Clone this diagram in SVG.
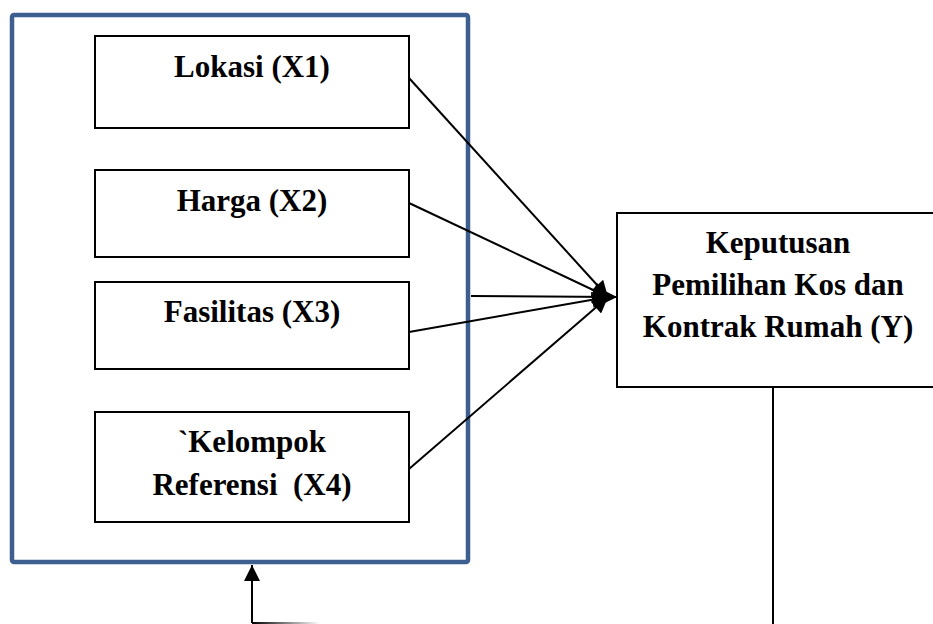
<svg xmlns="http://www.w3.org/2000/svg" width="933" height="624" viewBox="0 0 933 624">
<style>
.box{fill:#fff;stroke:#000;stroke-width:2}
.t{font-weight:bold;font-size:31px;fill:#000;text-anchor:middle}
.c{stroke:#000;stroke-width:2;fill:none}
</style>
<defs>
<marker id="ah" viewBox="0 0 10 10" refX="10" refY="5" markerWidth="9" markerHeight="8" markerUnits="strokeWidth" orient="auto">
<path d="M0,0 L10,5 L0,10 z" fill="#000"/>
</marker>
<linearGradient id="fade" x1="252" y1="0" x2="320" y2="0" gradientUnits="userSpaceOnUse">
<stop offset="0" stop-color="#000"/>
<stop offset="1" stop-color="#000" stop-opacity="0"/>
</linearGradient>
</defs>
<rect width="933" height="624" fill="#fff"/>
<g id="frame">
<rect x="12" y="15" width="456" height="547" rx="2" fill="none" stroke="#3C5F8F" stroke-width="4.5"/>
</g>
<g font-family="Liberation Serif, Times New Roman, DejaVu Serif, serif">
<g id="x1">
<rect class="box" x="95" y="36" width="314" height="92"/>
<text class="t" x="252" y="77">Lokasi (X1)</text>
</g>
<g id="x2">
<rect class="box" x="95" y="170" width="314" height="87"/>
<text class="t" x="252" y="211">Harga (X2)</text>
</g>
<g id="x3">
<rect class="box" x="95" y="282" width="314" height="87"/>
<text class="t" x="252" y="322">Fasilitas (X3)</text>
</g>
<g id="x4">
<rect class="box" x="95" y="412" width="314" height="110"/>
<text class="t" x="252" y="452">`Kelompok</text>
<text class="t" x="252" y="495" xml:space="preserve">Referensi  (X4)</text>
</g>
<g id="y">
<rect class="box" x="617" y="213" width="330" height="174"/>
<text class="t" x="778" y="253">Keputusan</text>
<text class="t" x="778" y="295">Pemilihan Kos dan</text>
<text class="t" x="778" y="337">Kontrak Rumah (Y)</text>
</g>
</g>
<g id="connectors">
<line class="c" x1="409" y1="78" x2="608" y2="297" marker-end="url(#ah)"/>
<line class="c" x1="409" y1="203" x2="608" y2="297" marker-end="url(#ah)"/>
<line class="c" x1="471" y1="296" x2="617" y2="297" marker-end="url(#ah)"/>
<line class="c" x1="409" y1="332" x2="608" y2="297" marker-end="url(#ah)"/>
<line class="c" x1="409" y1="469" x2="608" y2="297" marker-end="url(#ah)"/>
<line class="c" x1="773" y1="387" x2="773" y2="624"/>
<line x1="252" y1="623" x2="320" y2="623" stroke="url(#fade)" stroke-width="2"/>
<line class="c" x1="252" y1="623" x2="252" y2="565" marker-end="url(#ah)"/>
</g>
</svg>
